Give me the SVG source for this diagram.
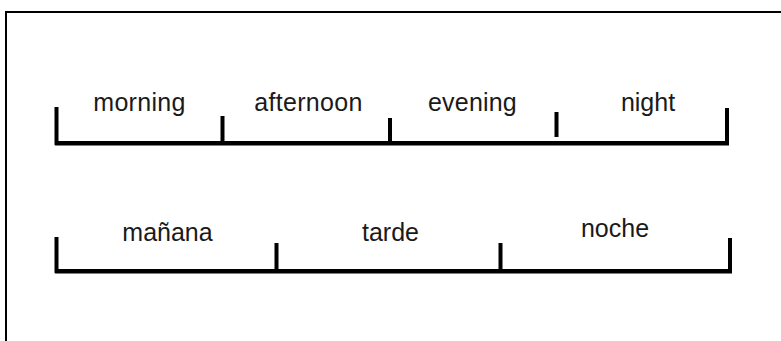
<svg xmlns="http://www.w3.org/2000/svg" width="781" height="341" viewBox="0 0 781 341">
  <style>
    .frame { fill: none; stroke: #000; stroke-width: 2; }
    .bar { fill: #000; }
    .label { font-family: "Liberation Sans", Arial, sans-serif; font-size: 25px; fill: #1a1a1a; text-anchor: middle; }
  </style>
  <rect width="781" height="341" fill="#fff"/>
  <path class="frame" d="M6,341 V12 H781"/>

  <!-- English parts of the day -->
  <g id="english-scale">
    <rect class="bar" x="55" y="141" width="674" height="4.5"/>
    <rect class="bar" x="54.5" y="107" width="4" height="38"/>
    <rect class="bar" x="220.5" y="116" width="4" height="29"/>
    <rect class="bar" x="388" y="118" width="4" height="27"/>
    <rect class="bar" x="554.5" y="112" width="4" height="25"/>
    <rect class="bar" x="725" y="108" width="4" height="37"/>
  </g>
  <g id="morning"><text class="label" x="139.5" y="111" letter-spacing="0.3">morning</text></g>
  <g id="afternoon"><text class="label" x="308.5" y="111" letter-spacing="0.3">afternoon</text></g>
  <g id="evening"><text class="label" x="472.5" y="111" letter-spacing="0.2">evening</text></g>
  <g id="night"><text class="label" x="648" y="111">night</text></g>

  <!-- Spanish parts of the day -->
  <g id="spanish-scale">
    <rect class="bar" x="55" y="269" width="677" height="4.5"/>
    <rect class="bar" x="54.5" y="237" width="4" height="36"/>
    <rect class="bar" x="274.5" y="243" width="4" height="30"/>
    <rect class="bar" x="498.5" y="243" width="4" height="30"/>
    <rect class="bar" x="728" y="238" width="4" height="35"/>
  </g>
  <g id="manana"><text class="label" x="167.5" y="241">mañana</text></g>
  <g id="tarde"><text class="label" x="390.5" y="241">tarde</text></g>
  <g id="noche"><text class="label" x="615" y="237">noche</text></g>
</svg>
